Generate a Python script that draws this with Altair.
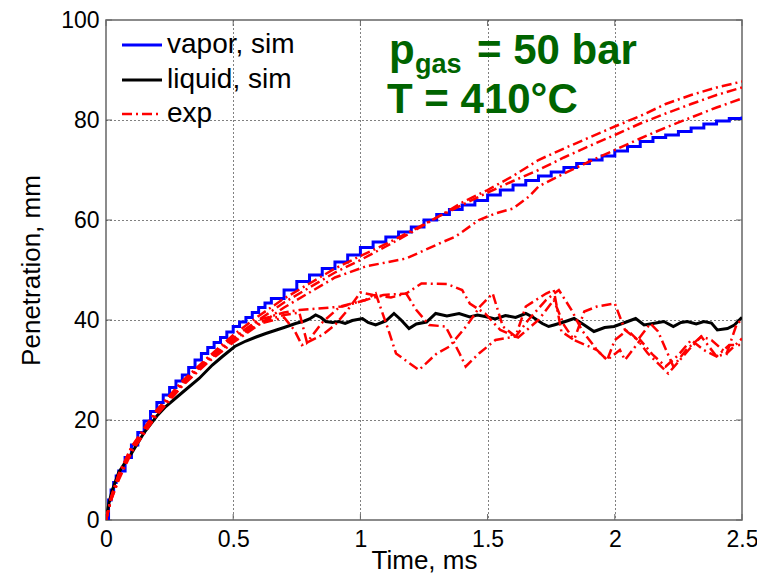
import altair as alt
import pandas as pd

# ---------------- data ----------------
x_ticks = [0, 0.5, 1, 1.5, 2, 2.5]
y_ticks = [0, 20, 40, 60, 80, 100]

vapor_t = [0.00, 0.01, 0.02, 0.03, 0.04, 0.05, 0.075, 0.10, 0.125, 0.15, 0.175, 0.20, 0.225,
           0.25, 0.275, 0.30, 0.325, 0.35, 0.375, 0.40, 0.425, 0.45, 0.475, 0.50, 0.525, 0.55,
           0.575, 0.60, 0.625, 0.65, 0.70, 0.75, 0.80, 0.85, 0.90, 0.95, 1.00, 1.05,
           1.10, 1.15, 1.20, 1.25, 1.30, 1.35, 1.40, 1.45, 1.50, 1.55, 1.60, 1.65, 1.70, 1.75,
           1.80, 1.85, 1.90, 1.95, 2.00, 2.05, 2.10, 2.15, 2.20, 2.25, 2.30, 2.35, 2.40, 2.45, 2.50]
vapor_p = [0, 4.0, 6.0, 7.5, 8.8, 9.8, 12.5, 15.0, 17.5, 19.8, 21.7, 23.5, 25.0,
           26.5, 27.8, 29.0, 30.5, 32.0, 33.3, 34.5, 35.5, 36.5, 37.6, 38.7, 39.6, 40.5,
           41.5, 42.5, 43.4, 44.3, 46.0, 47.7, 49.0, 50.3, 51.6, 53.0, 54.5, 55.6,
           56.6, 57.6, 58.6, 60.0, 61.1, 62.1, 63.0, 63.9, 65.0, 66.0, 67.0, 67.9, 68.8, 69.6,
           70.5, 71.3, 72.0, 72.8, 73.8, 74.7, 75.7, 76.5, 77.0, 77.7, 78.4, 79.2, 79.8, 80.3, 80.7]

liquid_t = [0, 0.012, 0.025, 0.05, 0.075, 0.1, 0.15, 0.2, 0.235, 0.3, 0.366, 0.418, 0.46, 0.506,
            0.55, 0.59, 0.628, 0.67, 0.70, 0.745, 0.78, 0.80, 0.824, 0.845, 0.864, 0.89, 0.916,
            0.94, 0.968, 1.008, 1.03, 1.06, 1.1, 1.132, 1.16, 1.191, 1.22, 1.26, 1.296, 1.34,
            1.388, 1.43, 1.46, 1.49, 1.53, 1.57, 1.61, 1.65, 1.68, 1.715, 1.74, 1.761, 1.80,
            1.84, 1.88, 1.918, 1.96, 1.997, 2.04, 2.082, 2.115, 2.15, 2.193, 2.23, 2.26, 2.285,
            2.32, 2.35, 2.38, 2.403, 2.443, 2.47, 2.495, 2.5]
liquid_p = [0, 3.5, 6, 9.5, 11.5, 13.3, 17.5, 20.8, 22.7, 25.5, 28.3, 31, 32.8, 34.7,
            35.8, 36.6, 37.3, 38, 38.5, 39.3, 39.8, 40.2, 41, 40.5, 39.7, 39.5, 39.7,
            39.3, 39.9, 40.3, 39.5, 39, 39.8, 41.3, 40, 38.3, 39.2, 39.6, 41.3, 40.8,
            41.3, 40.6, 41, 40.7, 40.2, 40.9, 40.5, 41.3, 40.5, 39.3, 38.7, 39, 39.6,
            40.3, 39, 37.7, 38.5, 38.7, 39.5, 40.3, 39, 39.3, 39.7, 38.7, 39.5, 39.7,
            39.2, 39.7, 39.4, 38, 38.3, 39, 40.3, 40.5]

exp1_t = [0, 0.02, 0.05, 0.1, 0.2, 0.3, 0.4, 0.5, 0.6, 0.7, 0.8, 0.9, 1.0, 1.1, 1.2, 1.3, 1.4,
          1.5, 1.6, 1.7, 1.8, 1.9, 2.0, 2.1, 2.2, 2.3, 2.4, 2.5]
exp1_p = [0, 4.5, 9, 14.5, 22, 27.8, 32.5, 37, 40.8, 44.3, 47.3, 50.3, 52.8, 55.2, 57.8, 60.5, 63.5,
          66, 68.8, 72, 74.3, 76.5, 78.7, 80.8, 83.2, 85, 86.5, 87.7]
exp2_t = [0, 0.02, 0.05, 0.1, 0.2, 0.3, 0.4, 0.5, 0.6, 0.7, 0.8, 0.9, 1.0, 1.1, 1.2, 1.3, 1.4,
          1.5, 1.6, 1.7, 1.8, 1.9, 2.0, 2.1, 2.2, 2.3, 2.4, 2.5]
exp2_p = [0, 4.2, 8.5, 14, 21.5, 27.3, 32, 36.3, 40, 43.5, 46.5, 49.5, 52, 54.7, 57.5, 60.5, 63,
          65.5, 67.8, 70, 72.5, 74.8, 77, 79.3, 81.3, 83.2, 85, 86.5]
exp3_t = [0, 0.02, 0.05, 0.1, 0.2, 0.3, 0.4, 0.5, 0.6, 0.7, 0.8, 0.9, 1.02, 1.1, 1.18, 1.31, 1.374,
          1.466, 1.53, 1.6, 1.663, 1.7, 1.8, 1.9, 2.0, 2.1, 2.2, 2.3, 2.4, 2.5]
exp3_p = [0, 4, 8, 13.5, 21, 26.8, 31.5, 35.5, 39, 42.5, 45.5, 48.5, 50.7, 51.5, 52.3, 55.3, 56.7,
          60, 61.3, 62.3, 64.7, 66.7, 69.3, 71.7, 74, 76.3, 78.5, 80.5, 82.5, 84.3]
exp4_t = [0, 0.02, 0.05, 0.1, 0.2, 0.3, 0.4, 0.5, 0.6, 0.7, 0.76, 0.79, 0.85, 0.92, 1.02, 1.09,
          1.18, 1.24, 1.34, 1.40, 1.43, 1.49, 1.55, 1.62, 1.70, 1.76, 1.80, 1.84, 1.93, 1.97,
          2.00, 2.05, 2.09, 2.13, 2.21, 2.29, 2.34, 2.40, 2.44, 2.50]
exp4_p = [0, 4.3, 8.8, 14.2, 21.7, 27.2, 32, 36, 39.5, 41, 41.5, 35.5, 39.5, 42.7, 44, 45,
          45.3, 47.3, 47.2, 46, 43.3, 41.3, 38, 36.5, 40, 44, 39, 36, 34, 32,
          36, 38, 36, 33.3, 29.3, 34, 36.7, 32.7, 33.3, 36.3]
exp5_t = [0, 0.02, 0.05, 0.1, 0.2, 0.3, 0.4, 0.5, 0.6, 0.7, 0.76, 0.93, 1.02, 1.06, 1.11, 1.14,
          1.23, 1.30, 1.35, 1.42, 1.47, 1.52, 1.56, 1.61, 1.65, 1.73, 1.76, 1.79, 1.84, 1.88,
          1.93, 2.00, 2.04, 2.09, 2.14, 2.17, 2.23, 2.28, 2.34, 2.38, 2.44, 2.48, 2.50]
exp5_p = [0, 4.5, 9.2, 14.6, 22, 27.5, 32.3, 36.5, 40, 41.5, 42, 42.7, 44, 45.3, 38, 33.3,
          30, 33.3, 34.7, 39, 42.7, 45.3, 38.7, 36.7, 42.7, 45.3, 46, 37.7, 36, 41.7,
          42.7, 43.3, 38, 36, 39.3, 37.7, 30.7, 34, 36.7, 36, 33.3, 39.3, 40]
exp6_t = [0, 0.02, 0.05, 0.1, 0.2, 0.3, 0.4, 0.5, 0.6, 0.7, 0.74, 0.77, 0.85, 0.9, 0.95, 1.0,
          1.05, 1.12, 1.18, 1.22, 1.27, 1.335, 1.39, 1.414, 1.466, 1.531, 1.61, 1.66, 1.73, 1.78,
          1.83, 1.87, 1.93, 1.97, 2.02, 2.04, 2.10, 2.15, 2.20, 2.25, 2.30, 2.35, 2.40, 2.45, 2.50]
exp6_p = [0, 4, 8.3, 13.8, 21.3, 27, 31.8, 35.8, 39.2, 40.5, 38, 35, 37, 39, 42, 45.5,
          45, 44.5, 45.3, 42, 39, 38.7, 33.3, 30.7, 33.3, 36, 36.7, 40, 44, 46,
          42, 38, 34, 32, 34, 32, 36, 33, 30.7, 33, 36, 34, 32.7, 35, 35]

legend_labels = ["vapor, sim", "liquid, sim", "exp"]
note_p, note_sub, note_rest, note_T = "p", "gas", "= 50 bar", "T = 410°C"

# ---------------- styles ----------------
FONT = "Liberation Sans"
GREEN = "#006400"
BLUE, BLACK, RED = "#0000ff", "#000000", "#ff0000"
FRAME = "#666666"
DASHDOT = [10, 4, 2, 4]

vap_df = pd.DataFrame({"t": vapor_t, "p": vapor_p})
liq_df = pd.DataFrame({"t": liquid_t, "p": liquid_p})
runs = [(exp1_t, exp1_p), (exp2_t, exp2_p), (exp3_t, exp3_p),
        (exp4_t, exp4_p), (exp5_t, exp5_p), (exp6_t, exp6_p)]
exp_df = pd.concat([pd.DataFrame({"t": t, "p": p, "run": f"r{i}"})
                    for i, (t, p) in enumerate(runs)], ignore_index=True)
xt_df = pd.DataFrame({"t": x_ticks})
yt_df = pd.DataFrame({"p": y_ticks})
one = pd.DataFrame({"a": [0]})

xs = alt.Scale(domain=[0, 2.5], nice=False, zero=False)
ys = alt.Scale(domain=[0, 100], nice=False)


def grid_op(lo, hi):
    return {"condition": {"test": f"datum.value <= {lo} || datum.value >= {hi}", "value": 0},
            "value": 1}


x_axis = alt.Axis(values=x_ticks, format="~g", title="Time, ms", grid=True,
                  gridDash=[1, 3], gridColor="#000000", gridWidth=1, gridOpacity=grid_op(0, 2.5),
                  domain=False, ticks=False, tickSize=0, labelPadding=8,
                  labelFontSize=23, labelColor="#000", labelFont=FONT,
                  titleFontSize=26, titleFontWeight="normal", titleFont=FONT,
                  titleColor="#000", titleBaseline="alphabetic", titleY=48,
                  labelFlush=False)
y_axis = alt.Axis(values=y_ticks, title="Penetration, mm", grid=True,
                  gridDash=[1, 3], gridColor="#000000", gridWidth=1, gridOpacity=grid_op(0, 100),
                  domain=False, ticks=False, tickSize=0, labelPadding=7,
                  labelFontSize=23, labelColor="#000", labelFont=FONT,
                  titleFontSize=26, titleFontWeight="normal", titleFont=FONT,
                  titleColor="#000", titlePadding=16, labelFlush=False)

X = alt.X("t:Q", scale=xs, axis=x_axis)
Y = alt.Y("p:Q", scale=ys, axis=y_axis)
Xn = alt.X("t:Q", scale=xs)
Yn = alt.Y("p:Q", scale=ys)

vap = alt.Chart(vap_df).mark_line(interpolate="step-after", color=BLUE, strokeWidth=3,
                                  clip=True).encode(x=X, y=Y)
liq = alt.Chart(liq_df).mark_line(color=BLACK, strokeWidth=3, clip=True).encode(x=X, y=Y)
exp = alt.Chart(exp_df).mark_line(color=RED, strokeWidth=2.5, strokeDash=DASHDOT,
                                  clip=True).encode(x=X, y=Y, detail="run:N")

# inward MATLAB-style ticks on all four sides
tick_layers = [
    alt.Chart(xt_df).mark_rule(color=FRAME, strokeWidth=1).encode(
        x=Xn, y=alt.value(500), y2=alt.value(494)),
    alt.Chart(xt_df).mark_rule(color=FRAME, strokeWidth=1).encode(
        x=Xn, y=alt.value(0), y2=alt.value(6)),
    alt.Chart(yt_df).mark_rule(color=FRAME, strokeWidth=1).encode(
        y=Yn, x=alt.value(0), x2=alt.value(6)),
    alt.Chart(yt_df).mark_rule(color=FRAME, strokeWidth=1).encode(
        y=Yn, x=alt.value(636), x2=alt.value(630)),
]

layers = tick_layers + [vap, liq, exp]

# legend (manual, MATLAB style, no box)
leg_colors = [BLUE, BLACK, RED]
leg_rows = [25, 60, 94]
for lbl, col, yy in zip(legend_labels, leg_colors, leg_rows):
    kw = dict(color=col, strokeWidth=3 if col != RED else 2.5)
    if col == RED:
        kw["strokeDash"] = DASHDOT
    layers.append(alt.Chart(one).mark_rule(**kw).encode(
        x=alt.value(16), x2=alt.value(56), y=alt.value(yy)))
    layers.append(alt.Chart(one).mark_text(align="left", baseline="middle", font=FONT,
                                           fontSize=28, color="#000").encode(
        x=alt.value(61), y=alt.value(yy), text=alt.value(lbl)))

# annotation
ann = [(note_p, 283, 44, 42), (note_sub, 309, 53, 27), (note_rest, 371, 44, 42),
       (note_T, 281, 93, 42)]
for txt, xx, yy, fs in ann:
    layers.append(alt.Chart(one).mark_text(align="left", baseline="alphabetic", font=FONT,
                                           fontSize=fs, fontWeight="bold", color=GREEN).encode(
        x=alt.value(xx), y=alt.value(yy), text=alt.value(txt)))

chart = alt.layer(*layers).properties(
    width=636, height=500,
    autosize=alt.AutoSizeParams(type="none"),
    padding={"left": 98, "top": 12, "right": 15, "bottom": 54},
    background="white",
).configure_view(stroke=FRAME, strokeWidth=1.5, fill="white")

chart.save("out.html", embed_options={"renderer": "svg", "actions": False})
